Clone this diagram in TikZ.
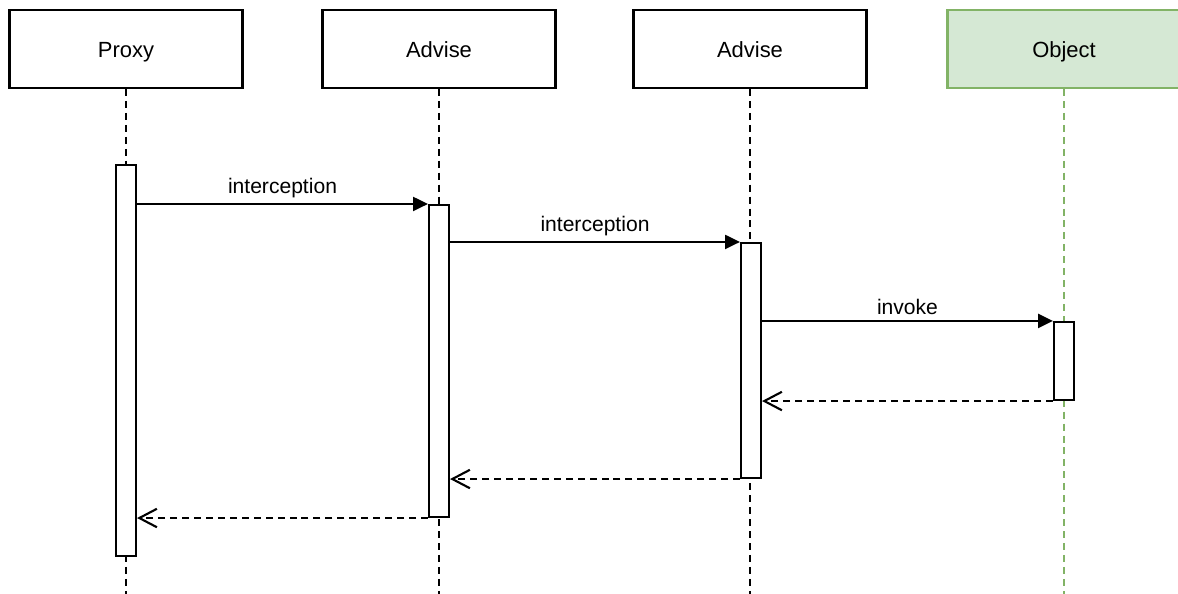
\documentclass[tikz,border=0pt]{standalone}
\usepackage{fontspec}
\setmainfont{Liberation Sans}
\usetikzlibrary{arrows.meta}
\definecolor{objfill}{HTML}{D5E8D4}
\definecolor{objline}{HTML}{82B366}

\tikzset{
	head/.style={draw, line width=1.2pt, minimum width=4.66cm, minimum height=1.56cm, text height=10pt, text depth=0pt, font=\fontsize{12.5}{15}\selectfont},
	lifeline/.style={line width=1.2pt, dash pattern=on 4pt off 2.8pt},
	bar/.style={draw, fill=white, line width=1.2pt, minimum width=0.4cm, inner sep=0pt},
	call/.style={line width=1.2pt, -{Triangle[length=8.5pt,width=8pt]}},
	reply/.style={line width=1.2pt, dash pattern=on 4pt off 2.8pt, -{Straight Barb[length=10pt,width=10.5pt]}},
	msg/.style={above, font=\fontsize{12}{14}\selectfont, inner sep=3pt}
}

\begin{document}
\begin{tikzpicture}[x=0.02cm,y=-0.02cm]
	\useasboundingbox (0,0) rectangle (1178,594);
	\clip (0,0) rectangle (1178,594);
	\coordinate (bottom) at (0,594);
	
	\node[head] (proxy) at (126,49) {Proxy};
	\node[head] (adv) at (439,49) {Advise};
	\node[head] (advb) at (750,49) {Advise};
	\node[head, fill=objfill, draw=objline] (obj) at (1064,49) {Object};
	
	\draw[lifeline] (proxy.south) -- (proxy.south |- bottom);
	\draw[lifeline] (adv.south) -- (adv.south |- bottom);
	\draw[lifeline] (advb.south) -- (advb.south |- bottom);
	\draw[lifeline, color=objline] (obj.south) -- (obj.south |- bottom);
	
	\node[bar, minimum height=7.82cm] (proxybar) at (126,360.5) {};
	\node[bar, minimum height=6.24cm] (advbar) at (439,361) {};
	\node[bar, minimum height=4.7cm] (advbbar) at (751,360.5) {};
	\node[bar, minimum height=1.56cm] (objbar) at (1064,361) {};
	
	\draw[call] (proxybar.east |- advbar.north) -- node[msg] {interception} (advbar.north west);
	\draw[call] (advbar.east |- advbbar.north) -- node[msg] {interception} (advbbar.north west);
	\draw[call] (advbbar.east |- objbar.north) -- node[msg] {invoke} (objbar.north west);
	
	\draw[reply] (objbar.south west) -- (advbbar.east |- objbar.south);
	\draw[reply] (advbbar.south west) -- (advbar.east |- advbbar.south);
	\draw[reply] (advbar.south west) -- (proxybar.east |- advbar.south);
\end{tikzpicture}
\end{document}
